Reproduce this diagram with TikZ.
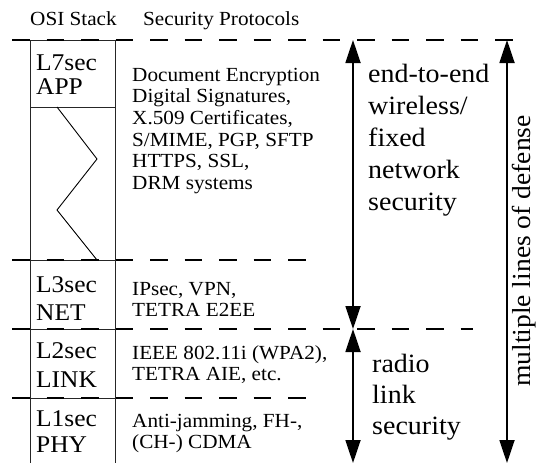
\documentclass[tikz,border=0pt]{standalone}
\usepackage{fontspec}
\setmainfont{Liberation Serif}[FakeStretch=1.06]
\usetikzlibrary{arrows.meta}
\newcommand{\stk}[1]{\begin{tabular}[t]{@{}l@{}}#1\end{tabular}}
\tikzset{
  boxline/.style={draw=black!85, line width=0.9pt},
  sepline/.style={line width=2.2pt, dash pattern=on 17.5pt off 17pt},
  dblarrow/.style={line width=1.8pt, {Triangle[length=23pt,width=15pt]}-{Triangle[length=23pt,width=15pt]}},
  hdr/.style={anchor=base west, inner sep=0pt, font=\fontsize{20}{22}\selectfont},
  layer/.style={anchor=base west, inner sep=0pt},
  proto/.style={anchor=base west, inner sep=0pt, font=\fontsize{20}{21.7}\selectfont},
  scope/.style={anchor=base west, inner sep=0pt},
}
\begin{document}
\begin{tikzpicture}[x=1pt,y=-1pt]
\useasboundingbox (0,0) rectangle (543,463);
% headers
\node[hdr] (hosi) at (30,25) {OSI Stack};
\node[hdr] (hsec) at (143,25) {Security Protocols};
% stack cells
\draw[boxline] (30,40) rectangle (115,107);
\draw[boxline] (30,107) rectangle (115,260);
\draw[boxline] (30,260) rectangle (115,329);
\draw[boxline] (30,329) rectangle (115,398);
\draw[boxline] (30,398) -- (30,463) (115,398) -- (115,463);
\draw[line width=0.9pt] (57,107) -- (97,159) -- (57,210) -- (97,260);
% separators
\draw[sepline] (12,40) -- (515,40);
\draw[sepline] (12,260) -- (307,260);
\draw[sepline] (12,329) -- (473,329);
\draw[sepline] (12,398) -- (307,398);
% layer labels
\node[layer] (l7) at (36,70) {\fontsize{24}{24}\selectfont\stk{L7sec\\APP}};
\node[layer] (l3) at (36,292) {\fontsize{24}{28}\selectfont\stk{L3sec\\NET}};
\node[layer] (l2) at (36,358) {\fontsize{24}{29}\selectfont\stk{L2sec\\LINK}};
\node[layer] (l1) at (36,426) {\fontsize{24}{26}\selectfont\stk{L1sec\\PHY}};
% protocols
\node[proto] (p7) at (132,81) {\stk{Document Encryption\\Digital Signatures,\\X.509 Certificates,\\S/MIME, PGP, SFTP\\HTTPS, SSL,\\DRM systems}};
\node[proto] (p3) at (132,295) {\stk{IPsec, VPN,\\TETRA E2EE}};
\node[proto] (p2) at (132,359) {\stk{IEEE 802.11i (WPA2),\\TETRA AIE, etc.}};
\node[proto] (p1) at (132,427) {\stk{Anti-jamming, FH-,\\(CH-) CDMA}};
% arrows
\coordinate (a1) at (353,40);
\coordinate (a2) at (353,329);
\coordinate (a3) at (353,463);
\coordinate (b1) at (507,40);
\coordinate (b2) at (507,463);
\draw[dblarrow] (a1) -- (a2);
\draw[dblarrow] (a2) -- (a3);
\draw[dblarrow] (b1) -- (b2);
% scope texts
\node[scope] (e2e) at (368,82) {\fontsize{26.4}{32}\selectfont\stk{end-to-end\\wireless/\\fixed\\network\\security}};
\node[scope] (rls) at (372,372) {\fontsize{26.4}{31}\selectfont\stk{radio\\link\\security}};
\node[rotate=90, inner sep=0pt, font=\fontsize{26}{28}\selectfont] (mld) at (524,251) {multiple lines of defense};
\end{tikzpicture}
\end{document}
